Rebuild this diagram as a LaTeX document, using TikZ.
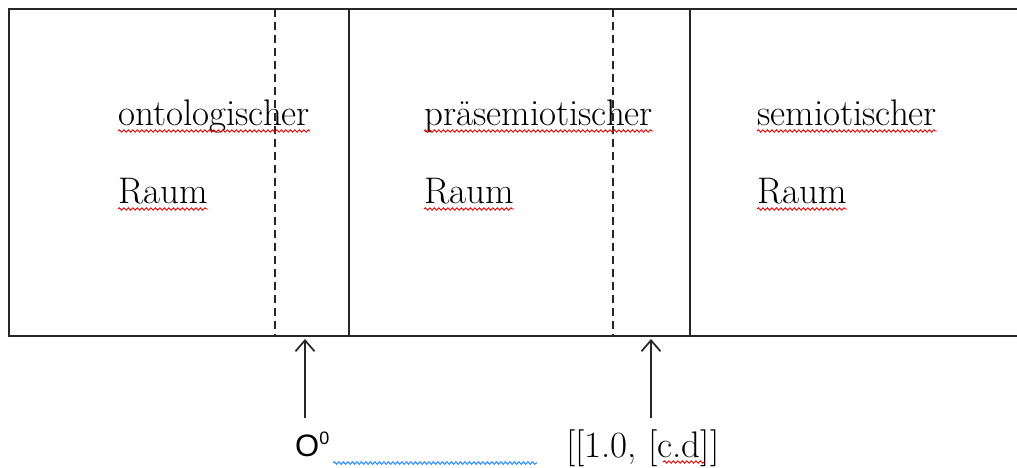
\documentclass[tikz,border=0pt]{standalone}
\usepackage{fontspec}
\newfontfamily\arialf{Liberation Sans}
\usetikzlibrary{decorations.pathmorphing,arrows.meta}
\tikzset{
  frame/.style={line width=1.5pt, black!85},
  divider/.style={line width=1.4pt, black!85},
  dashdiv/.style={line width=1.4pt, black!85, dash pattern=on 8pt off 5pt},
  word/.style={anchor=base west, inner sep=0pt, font=\fontsize{37}{44}\selectfont},
  redwave/.style={draw=red!90!black, line width=0.9pt, decorate, decoration={snake, segment length=4.5pt, amplitude=1.2pt}},
  bluewave/.style={draw=blue!55!cyan!80!white, line width=1.1pt, decorate, decoration={snake, segment length=4.5pt, amplitude=1.3pt}},
  uparrow/.style={line width=1.7pt, black!85, -{Straight Barb[length=11pt,width=19pt,line width=1.7pt]}},
}
\begin{document}
\begin{tikzpicture}[x=1pt,y=-1pt]
\useasboundingbox (0,0) rectangle (1017,468);
% frame
\draw[frame] (1019,9) -- (9,9) -- (9,336) -- (1019,336);
\draw[divider] (349,9) -- (349,336);
\draw[divider] (690,9) -- (690,336);
\draw[dashdiv] (275,9) -- (275,336);
\draw[dashdiv] (613,9) -- (613,336);
% words
\node[word] (w1) at (118,125) {ontologischer};
\node[word] (w2) at (118,203) {Raum};
\node[word] (w3) at (424,125) {präsemiotischer};
\node[word] (w4) at (424,203) {Raum};
\node[word] (w5) at (757,125) {semiotischer};
\node[word] (w6) at (757,203) {Raum};
\foreach \n in {w1,w2,w3,w4,w5,w6}{
  \draw[redwave] ([yshift=-6pt]\n.base west) -- ([yshift=-6pt]\n.base east);
}
% bottom labels
\node[anchor=base west, inner sep=0pt, font=\arialf\fontsize{31}{38}\selectfont] (o0) at (295,456) {O\raisebox{12pt}{\fontsize{18}{20}\selectfont 0}};
\node[word] (tup) at (566,457) {[[1.0, [c.d]]};
\coordinate (cd1) at (663,462);
\coordinate (cd2) at (705,462);
\draw[redwave] (cd1) -- (cd2);
\coordinate (bw1) at (333,463);
\coordinate (bw2) at (537,463);
\draw[bluewave] (bw1) -- (bw2);
% arrows
\coordinate (t1) at (305,339);
\coordinate (s1) at (305,418);
\coordinate (t2) at (651,339);
\coordinate (s2) at (651,418);
\draw[uparrow] (s1) -- (t1);
\draw[uparrow] (s2) -- (t2);
\end{tikzpicture}
\end{document}
